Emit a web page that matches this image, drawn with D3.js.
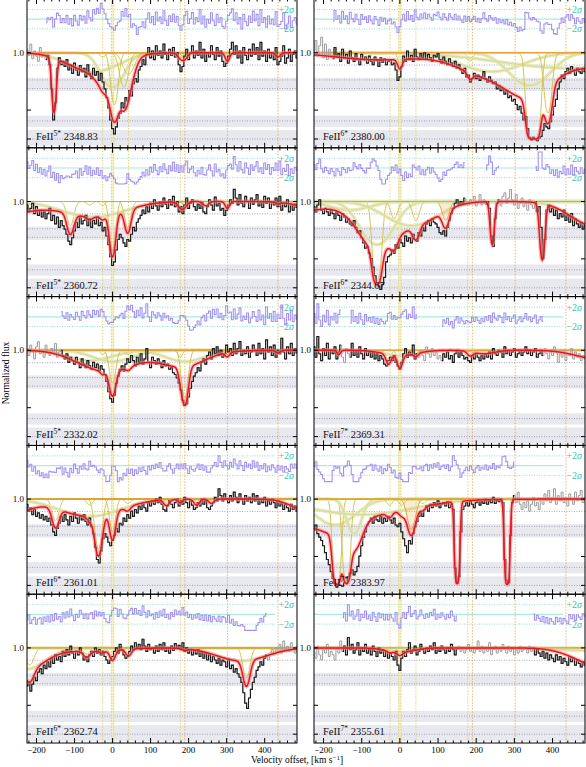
<!DOCTYPE html>
<html>
<head>
<meta charset="utf-8">
<script src="https://cdn.jsdelivr.net/npm/d3@7"></script>
<style>
body { margin: 0; background: #fff; }
svg { display: block; }
text { font-family: "Liberation Serif", "DejaVu Serif", serif; }
</style>
</head>
<body>
<svg id="chart" width="586" height="767"></svg>
<script>
// ---- data ----
// spectra are sampled every 5 km/s from -225 to 485 km/s
var velStart = -225, velStep = 5;
var velDomain = [-225, 485];
var velTicks = [-200, -100, 0, 100, 200, 300, 400];
var fluxTicks = [0, 0.335, 1.0];
var markVel = [-26, 0, 42, 178, 190, 302, 435];
var markKind = ["y", "y", "y", "y", "o", "o", "o"];
var shadeBands = [[0.556, 0.71], [0.14, 0.27], [-0.08, 0.105]];
var dotLevels = [0.857, 0.684, 0.585, 0.209, 0];
var noiseSigma = 0.06;

var panelIon  = ["5*", "6*", "5*", "6*", "5*", "7*", "6*", "7*", "6*", "7*"];
var panelWave = ["2348.83", "2380.00", "2360.72", "2344.67", "2332.02", "2369.31", "2361.01", "2383.97", "2362.74", "2355.61"];

var flux2348 = [1.04, 0.97, 1.10, 0.93, 1.02, 0.96, 0.90, 1.06, 0.95, 0.99,
  0.92, 0.97, 0.86, 0.58, 0.22, 0.42, 0.82, 0.94, 0.86, 0.90,
  0.84, 0.92, 0.80, 0.86, 0.76, 0.88, 0.80, 0.74, 0.85, 0.78,
  0.82, 0.72, 0.86, 0.76, 0.70, 0.82, 0.74, 0.78, 0.68, 0.76,
  0.66, 0.58, 0.48, 0.36, 0.22, 0.12, 0.06, 0.14, 0.24, 0.30,
  0.42, 0.36, 0.48, 0.44, 0.56, 0.50, 0.64, 0.70, 0.66, 0.80,
  0.84, 0.92, 0.86, 0.98, 1.06, 0.94, 1.02, 0.92, 1.08, 0.97,
  1.02, 0.94, 1.10, 0.98, 0.92, 1.04, 0.97, 1.06, 0.95, 1.00,
  0.86, 0.78, 0.84, 0.96, 1.04, 0.92, 1.00, 1.08, 0.94, 1.02,
  0.97, 1.12, 0.94, 1.04, 0.90, 1.00, 0.95, 1.08, 0.98, 0.92,
  1.06, 0.96, 1.02, 0.90, 0.84, 0.88, 0.96, 1.04, 1.12, 0.98,
  1.08, 0.94, 1.02, 0.88, 1.06, 0.97, 0.92, 1.04, 0.96, 1.10,
  0.98, 1.06, 0.92, 1.12, 0.96, 1.02, 0.90, 1.04, 0.94, 1.00,
  0.92, 1.06, 0.86, 0.90, 0.96, 1.08, 0.88, 0.94, 1.04, 0.90,
  0.98, 1.02, 0.94];
var flux2380 = [1.02, 1.14, 0.96, 1.08, 1.18, 0.94, 1.10, 0.92, 1.04, 0.97,
  0.93, 1.06, 0.95, 0.99, 0.90, 1.04, 0.94, 0.98, 0.88, 1.02,
  0.94, 0.90, 0.99, 0.92, 0.86, 0.98, 0.92, 0.95, 0.88, 0.96,
  0.90, 0.86, 0.95, 0.91, 0.84, 0.94, 0.89, 0.93, 0.86, 0.90,
  0.92, 0.86, 0.88, 0.80, 0.68, 0.72, 0.84, 0.96, 0.90, 1.02,
  0.92, 0.97, 0.90, 1.04, 0.95, 0.92, 0.99, 0.94, 1.00, 0.93,
  0.98, 0.94, 0.90, 0.97, 0.95, 0.99, 0.92, 0.88, 0.95, 0.90,
  0.86, 0.93, 0.88, 0.84, 0.90, 0.82, 0.86, 0.80, 0.76, 0.82,
  0.72, 0.74, 0.66, 0.70, 0.76, 0.70, 0.74, 0.68, 0.72, 0.78,
  0.70, 0.66, 0.72, 0.68, 0.64, 0.66, 0.58, 0.62, 0.56, 0.58,
  0.52, 0.56, 0.48, 0.50, 0.44, 0.46, 0.40, 0.34, 0.38, 0.30,
  0.22, 0.26, 0.12, 0.02, -0.01, 0.02, 0.00, -0.02, 0.01, 0.03,
  0.10, 0.18, 0.14, 0.12, 0.20, 0.28, 0.38, 0.46, 0.58, 0.66,
  0.74, 0.70, 0.78, 0.82, 0.76, 0.84, 0.80, 0.74, 0.82, 0.78,
  0.76, 0.82, 0.78];
var flux2360 = [0.96, 0.88, 0.92, 0.98, 0.86, 0.94, 0.84, 0.90, 0.82, 0.88,
  0.80, 0.86, 0.92, 0.78, 0.84, 0.74, 0.82, 0.70, 0.78, 0.72,
  0.68, 0.62, 0.54, 0.50, 0.58, 0.66, 0.76, 0.70, 0.82, 0.74,
  0.78, 0.84, 0.72, 0.80, 0.70, 0.78, 0.74, 0.82, 0.72, 0.76,
  0.66, 0.70, 0.60, 0.50, 0.36, 0.26, 0.30, 0.44, 0.56, 0.62,
  0.58, 0.52, 0.48, 0.56, 0.54, 0.62, 0.70, 0.66, 0.76, 0.80,
  0.84, 0.90, 0.86, 0.94, 0.88, 0.98, 0.92, 1.02, 0.95, 0.90,
  1.00, 0.94, 1.04, 0.97, 0.92, 1.02, 0.96, 1.06, 0.94, 1.00,
  0.88, 0.94, 0.86, 0.96, 1.04, 0.92, 0.98, 1.02, 0.94, 0.90,
  0.97, 0.92, 0.99, 0.88, 0.86, 0.94, 1.02, 0.96, 0.90, 1.05,
  0.95, 0.98, 0.90, 0.92, 0.84, 0.90, 0.96, 1.02, 0.98, 1.14,
  1.04, 0.96, 1.08, 0.98, 0.94, 1.06, 1.00, 0.92, 1.04, 0.97,
  1.02, 1.08, 0.95, 1.00, 0.93, 1.06, 0.98, 1.04, 0.92, 1.00,
  0.96, 1.04, 0.94, 1.06, 0.90, 0.98, 0.94, 1.02, 0.88, 0.96,
  0.90, 0.97, 0.93];
var flux2344 = [0.94, 0.88, 0.96, 1.02, 0.90, 0.86, 0.92, 0.88, 0.84, 0.90,
  0.86, 0.80, 0.88, 0.84, 0.78, 0.86, 0.82, 0.76, 0.80, 0.74,
  0.72, 0.78, 0.70, 0.64, 0.66, 0.58, 0.52, 0.46, 0.48, 0.40,
  0.34, 0.24, 0.14, 0.06, 0.02, -0.02, 0.04, 0.12, 0.30, 0.36,
  0.38, 0.44, 0.40, 0.50, 0.46, 0.56, 0.52, 0.48, 0.60, 0.54,
  0.58, 0.52, 0.62, 0.56, 0.54, 0.64, 0.60, 0.70, 0.66, 0.74,
  0.78, 0.72, 0.80, 0.76, 0.74, 0.70, 0.64, 0.62, 0.66, 0.60,
  0.70, 0.78, 0.86, 0.92, 0.98, 1.02, 0.96, 1.00, 0.97, 1.04,
  0.99, 0.96, 1.02, 0.98, 1.06, 0.95, 1.00, 1.08, 0.96, 1.02,
  0.97, 1.00, 0.92, 0.60, 0.48, 0.80, 0.98, 1.02, 0.95, 1.06,
  1.10, 0.98, 1.04, 1.14, 1.02, 0.96, 1.08, 0.92, 0.98, 1.04,
  0.94, 0.98, 0.90, 1.02, 0.96, 0.92, 1.00, 0.88, 0.94, 0.70,
  0.34, 0.56, 0.90, 0.96, 0.88, 0.92, 0.84, 0.90, 0.80, 0.86,
  0.82, 0.90, 0.78, 0.84, 0.76, 0.86, 0.72, 0.80, 0.74, 0.70,
  0.76, 0.68, 0.72];
var flux2332 = [1.02, 0.94, 1.06, 0.98, 0.90, 1.04, 1.10, 0.96, 1.00, 0.92,
  1.06, 0.98, 0.94, 1.02, 0.96, 1.08, 0.92, 0.98, 1.00, 0.94,
  0.90, 0.96, 0.86, 0.92, 0.88, 0.84, 0.92, 0.86, 0.80, 0.90,
  0.84, 0.80, 0.88, 0.82, 0.78, 0.86, 0.80, 0.84, 0.76, 0.82,
  0.78, 0.72, 0.64, 0.52, 0.44, 0.40, 0.48, 0.62, 0.70, 0.78,
  0.82, 0.76, 0.84, 0.90, 0.86, 0.94, 0.88, 0.82, 0.92, 0.86,
  0.96, 0.84, 0.90, 1.02, 0.86, 0.80, 0.92, 0.88, 0.84, 0.90,
  0.86, 0.80, 0.88, 0.82, 0.84, 0.78, 0.80, 0.74, 0.72, 0.68,
  0.62, 0.54, 0.42, 0.36, 0.38, 0.46, 0.56, 0.64, 0.70, 0.74,
  0.80, 0.76, 0.86, 0.90, 0.84, 0.94, 0.98, 0.90, 1.02, 0.96,
  1.04, 0.94, 1.00, 0.92, 0.96, 1.06, 0.98, 1.02, 0.94, 1.08,
  0.96, 1.02, 1.10, 0.94, 1.00, 0.96, 1.04, 0.92, 0.98, 1.06,
  1.00, 0.94, 1.08, 0.96, 1.02, 0.90, 1.12, 0.98, 1.04, 0.94,
  1.06, 0.92, 1.00, 0.96, 1.14, 0.98, 0.90, 1.04, 0.96, 1.08,
  0.94, 1.02, 0.97];
var flux2369 = [1.04, 0.92, 1.16, 0.96, 0.88, 1.02, 0.94, 1.08, 0.90, 1.00,
  0.96, 1.04, 0.90, 0.98, 1.06, 0.92, 0.86, 1.02, 0.96, 0.92,
  1.08, 0.94, 1.00, 0.92, 1.04, 0.96, 0.90, 1.02, 0.94, 0.98,
  0.92, 0.98, 0.90, 0.96, 0.88, 0.94, 0.90, 0.84, 0.82, 0.88,
  0.92, 0.88, 0.94, 0.86, 0.82, 0.78, 0.86, 0.96, 1.02, 0.92,
  0.98, 0.94, 1.06, 0.90, 0.96, 0.92, 1.00, 0.94, 0.88, 1.04,
  0.96, 0.92, 1.02, 0.94, 0.98, 0.90, 0.94, 0.88, 0.96, 0.92,
  0.98, 0.90, 0.94, 0.86, 0.96, 1.00, 0.92, 0.98, 0.94, 0.90,
  0.92, 0.88, 0.86, 0.94, 0.90, 0.96, 0.92, 0.88, 0.94, 0.90,
  0.96, 0.92, 0.98, 0.90, 1.02, 0.96, 0.94, 1.00, 0.98, 0.92,
  1.04, 0.96, 1.00, 0.94, 0.98, 1.02, 0.92, 0.96, 1.00, 0.94,
  0.98, 1.04, 0.96, 1.00, 0.94, 0.98, 1.02, 0.92, 0.96, 1.00,
  0.94, 1.02, 0.96, 0.90, 1.00, 0.94, 1.04, 0.98, 0.86, 0.96,
  0.92, 1.00, 0.88, 0.96, 0.94, 1.02, 0.90, 0.98, 0.92, 0.96,
  0.88, 0.94, 0.90];
var flux2361 = [0.94, 0.86, 0.90, 0.82, 0.88, 0.80, 0.84, 0.78, 0.82, 0.76,
  0.80, 0.74, 0.78, 0.70, 0.62, 0.58, 0.66, 0.72, 0.80, 0.74,
  0.82, 0.76, 0.70, 0.80, 0.74, 0.84, 0.78, 0.72, 0.80, 0.76,
  0.82, 0.74, 0.70, 0.78, 0.68, 0.60, 0.44, 0.30, 0.26, 0.40,
  0.54, 0.60, 0.56, 0.50, 0.46, 0.52, 0.58, 0.66, 0.62, 0.72,
  0.70, 0.78, 0.74, 0.82, 0.78, 0.86, 0.80, 0.88, 0.84, 0.92,
  0.88, 0.94, 0.90, 0.86, 0.96, 0.92, 0.98, 0.94, 1.00, 0.96,
  1.02, 0.94, 0.88, 0.86, 0.92, 0.98, 0.94, 0.90, 0.96, 1.00,
  0.92, 0.98, 0.94, 1.02, 0.96, 0.90, 0.98, 0.93, 0.88, 0.90,
  0.96, 0.92, 1.00, 0.94, 0.98, 0.90, 0.88, 0.92, 0.96, 1.02,
  0.98, 1.12, 1.04, 0.98, 1.06, 1.00, 0.96, 1.04, 0.98, 1.08,
  1.02, 0.96, 1.06, 1.00, 0.94, 1.04, 0.98, 1.02, 0.96, 1.06,
  0.98, 1.04, 0.94, 1.00, 0.96, 1.02, 0.92, 0.98, 0.94, 1.00,
  0.96, 0.90, 0.98, 0.92, 0.96, 0.88, 0.94, 0.90, 0.86, 0.94,
  0.88, 0.92, 0.86];
var flux2383 = [0.64, 0.70, 0.60, 0.56, 0.52, 0.46, 0.38, 0.30, 0.24, 0.16,
  0.08, 0.02, -0.02, 0.01, 0.00, -0.01, 0.03, 0.02, 0.10, 0.14,
  0.18, 0.12, 0.16, 0.22, 0.34, 0.46, 0.56, 0.62, 0.70, 0.74,
  0.78, 0.72, 0.80, 0.76, 0.74, 0.80, 0.72, 0.78, 0.74, 0.80,
  0.76, 0.72, 0.78, 0.70, 0.68, 0.72, 0.62, 0.54, 0.46, 0.38,
  0.52, 0.48, 0.60, 0.68, 0.74, 0.80, 0.84, 0.80, 0.88, 0.92,
  0.86, 0.94, 0.90, 0.96, 0.92, 0.98, 0.90, 0.94, 0.96, 0.92,
  0.97, 0.90, 0.94, 0.88, 0.20, 0.03, 0.10, 0.62, 0.88, 0.92,
  0.96, 0.92, 0.98, 0.94, 0.90, 0.96, 0.99, 0.93, 0.97, 0.95,
  1.00, 0.94, 0.98, 0.96, 1.02, 0.95, 0.99, 0.97, 1.00, 0.96,
  0.30, 0.06, 0.03, 0.58, 0.96, 1.04, 0.96, 1.08, 0.94, 0.88,
  0.96, 0.90, 0.98, 0.86, 0.94, 1.02, 0.92, 0.96, 0.88, 1.00,
  0.94, 1.06, 0.98, 1.10, 0.96, 1.02, 1.12, 0.94, 1.04, 0.98,
  1.08, 0.96, 1.02, 0.92, 1.06, 1.00, 0.94, 1.08, 0.98, 1.04,
  1.10, 0.96, 1.02];
var flux2362 = [0.56, 0.60, 0.50, 0.58, 0.66, 0.62, 0.72, 0.76, 0.70, 0.80,
  0.76, 0.84, 0.78, 0.88, 0.82, 0.92, 0.86, 0.90, 0.84, 0.96,
  0.90, 0.98, 0.92, 1.02, 0.94, 0.88, 0.96, 0.92, 1.00, 0.94,
  0.86, 0.90, 0.84, 0.92, 0.96, 0.90, 1.00, 0.94, 0.98, 0.92,
  0.96, 0.90, 0.86, 0.82, 0.86, 0.90, 0.96, 1.00, 0.94, 1.04,
  0.98, 0.92, 0.88, 0.90, 0.96, 1.02, 0.98, 1.06, 1.00, 1.04,
  0.98, 1.10, 1.02, 0.96, 1.04, 0.98, 1.00, 0.94, 1.02, 0.96,
  1.04, 0.98, 1.06, 0.96, 1.00, 0.94, 1.02, 0.97, 1.05, 0.99,
  1.03, 0.98, 1.06, 0.96, 1.00, 0.94, 0.98, 0.92, 0.97, 0.93,
  0.98, 0.90, 0.95, 0.88, 0.94, 0.86, 0.92, 0.84, 0.90, 0.86,
  0.82, 0.88, 0.80, 0.86, 0.84, 0.78, 0.86, 0.76, 0.80, 0.72,
  0.76, 0.70, 0.66, 0.60, 0.48, 0.36, 0.30, 0.42, 0.52, 0.60,
  0.66, 0.74, 0.78, 0.84, 0.80, 0.88, 0.92, 0.86, 0.94, 0.98,
  0.92, 1.00, 0.96, 1.04, 0.94, 1.08, 0.98, 1.02, 0.96, 1.06,
  1.00, 0.94, 1.02];
var flux2355 = [0.96, 0.88, 1.02, 0.92, 0.86, 0.98, 0.94, 1.04, 0.90, 0.96,
  0.92, 0.86, 1.00, 0.94, 1.08, 0.96, 1.02, 0.92, 1.12, 0.98,
  1.04, 0.94, 0.98, 1.06, 0.92, 1.00, 0.96, 1.04, 0.94, 0.98,
  0.92, 1.02, 0.96, 0.90, 1.00, 0.94, 0.98, 0.90, 0.96, 0.88,
  0.94, 0.90, 0.86, 0.96, 0.80, 0.74, 0.88, 0.96, 0.90, 0.98,
  1.06, 0.94, 0.98, 1.02, 0.92, 0.96, 1.04, 0.98, 0.94, 1.00,
  0.96, 1.02, 0.98, 1.06, 0.94, 1.00, 0.96, 1.02, 0.98, 0.94,
  1.00, 0.96, 1.04, 0.98, 0.92, 0.98, 1.02, 0.96, 1.00, 0.94,
  0.98, 1.04, 0.96, 1.00, 0.94, 0.98, 1.08, 0.96, 1.02, 0.94,
  1.00, 0.96, 1.06, 0.92, 0.98, 1.02, 0.94, 1.00, 0.96, 1.04,
  0.98, 0.94, 1.02, 0.96, 1.00, 0.92, 0.98, 0.94, 1.02, 0.96,
  0.98, 1.00, 0.94, 1.02, 0.96, 1.00, 0.92, 0.98, 0.94, 0.90,
  0.96, 0.88, 0.94, 0.86, 0.92, 0.88, 0.84, 0.92, 0.86, 0.90,
  0.82, 0.88, 0.84, 0.80, 0.90, 0.84, 0.88, 0.80, 0.86, 0.82,
  0.78, 0.84, 0.80];

// velocity ranges used in the fit (black); the rest is grey
var fit2348 = [[-175, 485]];
var fit2380 = [[-175, 485]];
var fit2360 = [[-225, 485]];
var fit2344 = [[-225, 172], [222, 262], [351, 485]];
var fit2332 = [[-135, 485]];
var fit2369 = [[-225, -152], [-130, 45], [106, 376]];
var fit2361 = [[-225, 485]];
var fit2383 = [[-225, 303]];
var fit2362 = [[-225, 405]];
var fit2355 = [[-150, 150], [350, 485]];

// fit components: [centre km/s, width b km/s, central flux, kind]
// kind: y = component, o = orange component, band = broad component with error band, h = only in total model
var comp2348 = [[-154, 7, 0.33, "h"], [-50, 90, 0.78, "band"], [0, 40, 0.6, "band"], [5, 12, 0.4, "y"],
  [30, 15, 0.6, "y"], [42, 20, 0.75, "y"], [-26, 10, 0.95, "y"], [178, 10, 0.94, "y"],
  [190, 10, 0.93, "o"], [302, 8, 0.9, "o"], [435, 8, 0.95, "o"]];
var comp2380 = [[-60, 150, 0.92, "h"], [0, 8, 0.88, "y"], [184, 10, 0.9, "y"], [240, 110, 0.78, "band"],
  [340, 70, 0.62, "band"], [450, 250, 0.82, "band"], [350, 14, 0.0005, "y"], [388, 12, 0.3, "y"]];
var comp2360 = [[-260, 90, 0.88, "h"], [-111, 12, 0.72, "y"], [-50, 110, 0.82, "band"], [-60, 10, 0.96, "y"],
  [0, 10, 0.42, "y"], [40, 11, 0.7, "y"], [-26, 8, 0.95, "y"], [180, 12, 0.93, "y"], [190, 10, 0.96, "o"],
  [245, 10, 0.95, "y"], [302, 8, 0.92, "o"], [435, 8, 0.98, "o"], [560, 80, 0.9, "h"]];
var comp2344 = [[-250, 60, 0.9, "h"], [-130, 70, 0.9, "band"], [-60, 55, 0.5, "band"], [-60, 12, 0.08, "y"],
  [-15, 12, 0.8, "y"], [30, 90, 0.72, "band"], [42, 12, 0.78, "y"], [120, 12, 0.78, "o"],
  [242, 7, 0.5, "h"], [373, 8, 0.33, "h"], [520, 90, 0.7, "band"]];
var comp2332 = [[-60, 80, 0.88, "band"], [0, 70, 0.87, "band"], [0, 11, 0.62, "y"], [-26, 8, 0.95, "y"],
  [42, 10, 0.95, "y"], [190, 70, 0.87, "band"], [190, 11, 0.45, "y"], [178, 8, 0.92, "y"],
  [302, 8, 0.95, "o"], [435, 8, 0.97, "o"], [100, 150, 0.9, "h"]];
var comp2369 = [[-160, 6, 0.95, "h"], [-30, 9, 0.88, "y"], [0, 9, 0.84, "y"], [0, 60, 0.94, "band"],
  [42, 8, 0.96, "y"], [184, 10, 0.95, "y"], [220, 40, 0.96, "o"], [520, 80, 0.9, "h"]];
var comp2361 = [[-260, 60, 0.85, "h"], [-150, 12, 0.75, "y"], [-60, 110, 0.8, "band"], [-37, 12, 0.42, "y"],
  [0, 10, 0.62, "y"], [-60, 10, 0.93, "y"], [40, 10, 0.95, "y"], [142, 10, 0.93, "o"], [178, 8, 0.96, "y"],
  [221, 10, 0.93, "o"], [260, 10, 0.95, "o"], [520, 60, 0.85, "h"]];
var comp2383 = [[-300, 60, 0.6, "h"], [-170, 70, 0.7, "band"], [-165, 10, 0.02, "y"], [-140, 10, 0.05, "y"],
  [-120, 25, 0.6, "band"], [-100, 180, 0.82, "band"], [-27, 10, 0.93, "y"], [5, 10, 0.93, "y"],
  [30, 14, 0.65, "o"], [60, 10, 0.95, "y"], [150, 6, 0.02, "h"], [281, 6, 0.01, "h"]];
var comp2362 = [[-218, 15, 0.8, "y"], [-230, 70, 0.75, "band"], [-68, 12, 0.93, "y"], [-27, 8, 0.97, "y"],
  [0, 10, 0.88, "y"], [42, 10, 0.92, "y"], [190, 10, 0.98, "o"], [340, 90, 0.85, "band"],
  [352, 12, 0.65, "y"], [-60, 100, 0.96, "h"]];
var comp2355 = [[0, 50, 0.95, "band"], [0, 10, 0.96, "y"], [-27, 10, 0.98, "y"], [560, 100, 0.75, "h"],
  [480, 80, 0.97, "band"]];

var panelFlux = [flux2348, flux2380, flux2360, flux2344, flux2332, flux2369, flux2361, flux2383, flux2362, flux2355];
var panelFit  = [fit2348, fit2380, fit2360, fit2344, fit2332, fit2369, fit2361, fit2383, fit2362, fit2355];
var panelComp = [comp2348, comp2380, comp2360, comp2344, comp2332, comp2369, comp2361, comp2383, comp2362, comp2355];

// ---- layout ----
var colX = [[27, 297], [314, 585]];
var rowTop = -1, rowH = 148.8;
var svg = d3.select("#chart");
var grid = d3.range(velDomain[0], velDomain[1] + 0.5, 1);

function tauOf(c, v) {
  return -Math.log(c[2]) * Math.exp(-Math.pow((v - c[0]) / c[1], 2));
}
function inFit(fit, v) {
  return fit.some(r => v >= r[0] && v <= r[1]);
}
function segments(pts, test) {
  var out = [], cur = [];
  pts.forEach(p => {
    if (test(p)) cur.push(p);
    else { if (cur.length) out.push(cur); cur = []; }
  });
  if (cur.length) out.push(cur);
  return out;
}

panelFlux.forEach(function(flux, i) {
  var col = i % 2, row = Math.floor(i / 2);
  var top = rowTop + row * rowH, bot = top + rowH;
  var x0 = colX[col][0], x1 = colX[col][1];
  var x = d3.scaleLinear().domain(velDomain).range([x0, x1]);
  var y = d3.scaleLinear().domain([0, 1]).range([top + 140, top + 53.7]);
  var yr = d3.scaleLinear().domain([0, 2]).range([top + 20.2, top + 10.5]);
  var comps = panelComp[i], fit = panelFit[i];

  var g = svg.append("g");
  g.append("clipPath").attr("id", "clip" + i)
    .append("rect").attr("x", x0).attr("y", top).attr("width", x1 - x0).attr("height", rowH);
  var inner = g.append("g").attr("clip-path", "url(#clip" + i + ")");

  // grey shaded bands and dotted levels
  shadeBands.forEach(b => {
    inner.append("rect").attr("x", x0).attr("width", x1 - x0)
      .attr("y", y(b[1])).attr("height", y(b[0]) - y(b[1]))
      .attr("fill", "#e8e8ef");
  });
  dotLevels.forEach(l => {
    inner.append("line").attr("x1", x0).attr("x2", x1).attr("y1", y(l)).attr("y2", y(l))
      .attr("stroke", "#9492ad").attr("stroke-width", 0.8).attr("stroke-dasharray", "1,1.5");
  });

  // residual guides
  var rEnd = x1 - 22;
  inner.append("line").attr("x1", x0).attr("x2", rEnd).attr("y1", yr(0)).attr("y2", yr(0))
    .attr("stroke", "#a8ebe4").attr("stroke-width", 1.2);
  [2, -2].forEach(s => {
    inner.append("line").attr("x1", x0).attr("x2", rEnd).attr("y1", yr(s)).attr("y2", yr(s))
      .attr("stroke", "#72d6cc").attr("stroke-width", 0.8).attr("stroke-dasharray", "1,1.5");
  });

  // component velocity markers
  inner.append("rect").attr("x", x(0) - 1.2).attr("width", 2.4).attr("y", top).attr("height", rowH)
    .attr("fill", "#f3eeb8").attr("opacity", 0.8);
  markVel.forEach((v, k) => {
    var c = markKind[k] === "o" ? "#e2a548" : "#d5cb5c";
    var offs = v === 0 ? [-1.2, 1.2] : [0];
    offs.forEach(o => {
      inner.append("line").attr("x1", x(v) + o).attr("x2", x(v) + o).attr("y1", top).attr("y2", bot)
        .attr("stroke", c).attr("stroke-width", 0.8).attr("stroke-dasharray", "1.5,1.5");
    });
  });

  // individual components
  var cline = d3.line().x(d => x(d[0])).y(d => y(d[1]));
  comps.forEach(c => {
    if (c[3] === "h") return;
    var pts = grid.map(v => [v, Math.exp(-tauOf(c, v))]);
    if (c[3] === "band") {
      inner.append("path").attr("d", cline(pts)).attr("fill", "none")
        .attr("stroke", "#e2e6b0").attr("stroke-width", 3.5).attr("opacity", 0.85);
      inner.append("path").attr("d", cline(pts)).attr("fill", "none")
        .attr("stroke", "#c8c870").attr("stroke-width", 0.5);
    } else if (c[3] === "o") {
      var area = d3.area().x(d => x(d[0])).y0(y(1)).y1(d => y(d[1]));
      inner.append("path").attr("d", area(pts)).attr("fill", "#e9bf6a").attr("opacity", 0.3);
      inner.append("path").attr("d", cline(pts)).attr("fill", "none")
        .attr("stroke", "#df9a2e").attr("stroke-width", 0.9);
    } else {
      inner.append("path").attr("d", cline(pts)).attr("fill", "none")
        .attr("stroke", "#cdbf3a").attr("stroke-width", 0.9);
    }
  });

  // continuum
  inner.append("line").attr("x1", x0).attr("x2", x1).attr("y1", y(1)).attr("y2", y(1))
    .attr("stroke", "#e8a038").attr("stroke-width", 1.2);

  // spectrum
  var spec = flux.map((f, k) => [velStart + k * velStep, f]);
  var step = d3.line().x(d => x(d[0])).y(d => y(d[1])).curve(d3.curveStep);
  inner.append("path").attr("d", step(spec)).attr("fill", "none")
    .attr("stroke", "#9b9b9b").attr("stroke-width", 1);
  segments(spec, p => inFit(fit, p[0])).forEach(s => {
    inner.append("path").attr("d", step(s)).attr("fill", "none")
      .attr("stroke", "#1c1c1c").attr("stroke-width", 1.15);
  });

  // total model
  var model = v => Math.exp(-d3.sum(comps, c => tauOf(c, v)));
  var mpts = grid.map(v => [v, model(v)]);
  inner.append("path").attr("d", cline(mpts)).attr("fill", "none")
    .attr("stroke", "#f39090").attr("stroke-width", 4).attr("opacity", 0.55);
  inner.append("path").attr("d", cline(mpts)).attr("fill", "none")
    .attr("stroke", "#e8161c").attr("stroke-width", 1.5);

  // residuals (data - model) / sigma
  var res = spec.map(p => [p[0], Math.max(-3.3, Math.min(3.3, (p[1] - model(p[0])) / noiseSigma))]);
  var rline = d3.line().x(d => x(d[0])).y(d => yr(d[1])).curve(d3.curveStep);
  segments(res, p => inFit(fit, p[0])).forEach(s => {
    inner.append("path").attr("d", rline(s)).attr("fill", "none")
      .attr("stroke", "#a392f3").attr("stroke-width", 1.1);
  });

  // sigma labels
  [[2, "+2"], [-2, "\u22122"]].forEach(s => {
    var t = g.append("text").attr("x", x1 - 3).attr("y", yr(s[0]) + 3.5)
      .attr("text-anchor", "end").attr("font-size", 10).attr("fill", "#3cbfb2");
    t.append("tspan").text(s[1]);
    t.append("tspan").attr("font-style", "italic").text("\u03c3");
  });

  // frame and ticks
  g.append("rect").attr("x", x0).attr("y", top).attr("width", x1 - x0).attr("height", rowH)
    .attr("fill", "none").attr("stroke", "#000").attr("stroke-width", 1);
  d3.range(-220, velDomain[1], 20).forEach(v => {
    var len = v % 100 === 0 ? 5 : 2.5;
    g.append("line").attr("x1", x(v)).attr("x2", x(v)).attr("y1", bot).attr("y2", bot - len).attr("stroke", "#000");
    g.append("line").attr("x1", x(v)).attr("x2", x(v)).attr("y1", top).attr("y2", top + len).attr("stroke", "#000");
  });
  fluxTicks.forEach(f => {
    g.append("line").attr("x1", x0).attr("x2", x0 + 4).attr("y1", y(f)).attr("y2", y(f)).attr("stroke", "#000");
    g.append("line").attr("x1", x1).attr("x2", x1 - 4).attr("y1", y(f)).attr("y2", y(f)).attr("stroke", "#000");
  });
  g.append("text").attr("x", x0 - 3).attr("y", y(1) + 3).attr("text-anchor", "end")
    .attr("font-size", 9).text(d3.format(".1f")(1));

  if (row === 4) {
    velTicks.forEach(v => {
      g.append("text").attr("x", x(v)).attr("y", bot + 10).attr("text-anchor", "middle")
        .attr("font-size", 9).text(d3.format("d")(v));
    });
  }

  // transition label
  var lab = g.append("text").attr("x", x0 + 9).attr("y", top + 141).attr("font-size", 10.5).attr("fill", "#111");
  lab.append("tspan").text("FeII");
  lab.append("tspan").attr("dy", -4).attr("font-size", 7.5).text(panelIon[i]);
  lab.append("tspan").attr("dy", 4).text(" " + panelWave[i]);
});

// axis titles
svg.append("text").attr("transform", "translate(9,373) rotate(-90)").attr("text-anchor", "middle")
  .attr("font-size", 9.5).text("Normalized flux");
var xt = svg.append("text").attr("x", 297).attr("y", 763).attr("text-anchor", "middle").attr("font-size", 9.5);
xt.append("tspan").text("Velocity offset, [km s");
xt.append("tspan").attr("dy", -3.5).attr("font-size", 7).text("\u22121");
xt.append("tspan").attr("dy", 3.5).text("]");
</script>
</body>
</html>
